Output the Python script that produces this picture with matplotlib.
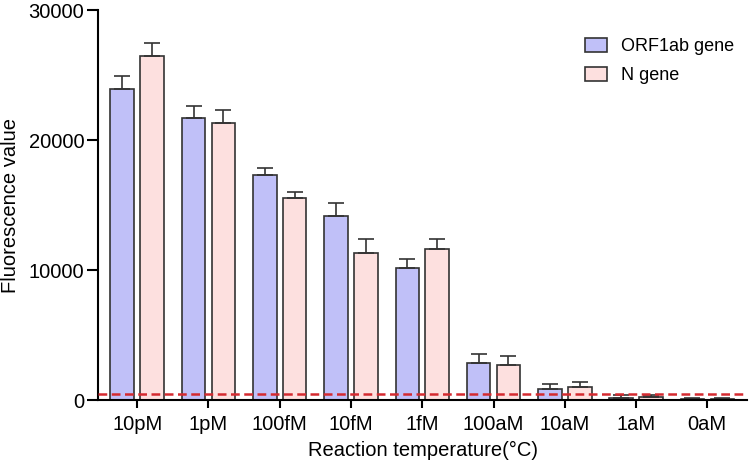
import numpy as np
import matplotlib.pyplot as plt

plt.rcParams['font.family'] = ['Liberation Sans', 'DejaVu Sans']

categories = ['10pM', '1pM', '100fM', '10fM', '1fM', '100aM', '10aM', '1aM', '0aM']
orf1ab = [23950, 21700, 17300, 14150, 10150, 2870, 870, 150, 60]
orf1ab_err = [1000, 920, 530, 980, 700, 690, 390, 230, 80]
n_gene = [26500, 21300, 15550, 11300, 11600, 2700, 1020, 200, 100]
n_gene_err = [1000, 1000, 440, 1070, 780, 670, 340, 210, 80]
cutoff = 450

fig = plt.figure(figsize=(7.54, 4.66), dpi=100)
ax = fig.add_axes([0.130, 0.1416, 0.861, 0.8369])

x = np.arange(len(categories))
w = 0.33
err_kw = dict(ecolor='#333333', elinewidth=1.2, capsize=6, capthick=1.2)
ax.bar(x - 0.21, orf1ab, w, color='#c0c0f8', edgecolor='#333333', linewidth=1.2,
       yerr=[np.zeros(len(x)), orf1ab_err], error_kw=err_kw, label='ORF1ab gene')
ax.bar(x + 0.21, n_gene, w, color='#fde0df', edgecolor='#333333', linewidth=1.2,
       yerr=[np.zeros(len(x)), n_gene_err], error_kw=err_kw, label='N gene')
ax.axhline(cutoff, color='#d42a30', linestyle=(0, (3.5, 1.8)), linewidth=1.8, zorder=5)

ax.set_xlim(-0.55, 8.56)
ax.set_ylim(0, 30000)
ax.set_yticks([0, 10000, 20000, 30000])
ax.set_xticks(x)
ax.set_xticklabels(categories)
for s in ['top', 'right']:
    ax.spines[s].set_visible(False)
for s in ['left', 'bottom']:
    ax.spines[s].set_linewidth(1.5)
ax.tick_params(axis='y', length=8, width=1.5, labelsize=14.5, pad=2)
ax.tick_params(axis='x', length=6, width=1.5, labelsize=14.5, pad=5)
ax.set_xlabel('Reaction temperature(°C)', fontsize=14.5, labelpad=5)
ax.set_ylabel('Fluorescence value', fontsize=14.5, labelpad=6)

ax.legend(loc='upper right', bbox_to_anchor=(1.005, 0.97), frameon=False, fontsize=13,
          handlelength=1.2, handleheight=0.8, handletextpad=0.8, labelspacing=0.65)

fig.savefig('out.png', dpi=100)
